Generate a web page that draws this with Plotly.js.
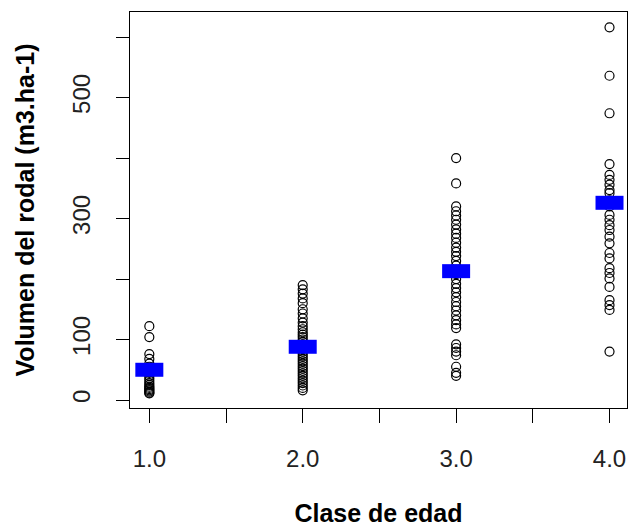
<!DOCTYPE html>
<html>
<head>
<meta charset="utf-8">
<script src="https://cdn.plot.ly/plotly-3.0.1.min.js"></script>
<style>
html, body { margin: 0; padding: 0; background: #fff; }
#chart { width: 628px; height: 527px; }
</style>
</head>
<body>
<div id="chart"></div>
<script>
// Age classes
var categories = [1, 2, 3, 4];
var xTickVals = [1, 1.5, 2, 2.5, 3, 3.5, 4];
var xTickText = ["1.0", "", "2.0", "", "3.0", "", "4.0"];
var yTickVals = [0, 100, 200, 300, 400, 500, 600];
var yTickText = ["0", "100", "", "300", "", "500", ""];

// Stand volume observations per age class (m3/ha)
var clase1 = [122, 104, 76, 68, 60, 55, 45, 40, 36, 32, 28, 25, 22, 20, 18, 16, 14, 12, 11];
var clase2 = [190, 183, 176, 168, 160, 150, 143, 135, 128, 122, 117, 112, 108, 104, 100, 96, 92, 88,
              84, 80, 76, 72, 68, 64, 60, 56, 52, 48, 44, 40, 36, 32, 28, 24, 20, 16];
var clase3 = [400, 358, 320, 312, 305, 298, 290, 282, 275, 268, 260, 252, 245, 238, 230, 222, 215, 208,
              200, 192, 185, 178, 170, 162, 155, 148, 140, 132, 125, 119, 92, 86, 80, 74, 55, 45, 40];
var clase4 = [616, 536, 474, 390, 372, 364, 356, 347, 342, 330, 320, 306, 298, 289, 281, 270, 259, 243,
              234, 218, 210, 201, 187, 165, 157, 149, 80];
// Mean per class (blue markers)
var medias = [50, 88, 213, 326];

var groups = [clase1, clase2, clase3, clase4];
var xs = [], ys = [];
groups.forEach(function (g, i) {
  g.forEach(function (v) { xs.push(categories[i]); ys.push(v); });
});

var traces = [
  {
    type: 'scatter', mode: 'markers', x: xs, y: ys,
    marker: { symbol: 'circle-open', size: 9, color: '#000000', line: { width: 1.2, color: '#000000' } },
    hoverinfo: 'x+y', showlegend: false
  },
  {
    type: 'scatter', mode: 'markers', x: categories, y: medias,
    marker: { symbol: 'line-ew', size: 20, color: '#0000FF', line: { width: 14, color: '#0000FF' } },
    hoverinfo: 'x+y', showlegend: false
  }
];

var tickFont = { family: 'Liberation Sans, Arial, sans-serif', size: 24, color: '#222222' };
var titleFont = { family: 'Liberation Sans, Arial, sans-serif', size: 25, color: '#000000', weight: 'bold' };

var layout = {
  width: 628, height: 527,
  margin: { l: 130, r: 1, t: 12, b: 119, pad: 0 },
  paper_bgcolor: '#ffffff', plot_bgcolor: '#ffffff',
  showlegend: false,
  xaxis: {
    range: [0.874, 4.114], autorange: false,
    tickmode: 'array', tickvals: xTickVals, ticktext: xTickText,
    ticks: 'outside', ticklen: 14, tickwidth: 1, tickcolor: '#000000',
    showline: true, mirror: true, linecolor: '#000000', linewidth: 1,
    showgrid: false, zeroline: false,
    tickfont: tickFont, ticklabelstandoff: 15,
    automargin: false,
    title: { text: 'Clase de edad', font: titleFont, standoff: 36 }
  },
  yaxis: {
    range: [-13.2, 641.4], autorange: false,
    tickmode: 'array', tickvals: yTickVals, ticktext: yTickText,
    ticks: 'outside', ticklen: 13, tickwidth: 1, tickcolor: '#000000',
    showline: true, mirror: true, linecolor: '#000000', linewidth: 1,
    showgrid: false, zeroline: false,
    tickfont: tickFont, tickangle: -90, ticklabelstandoff: 16,
    automargin: false,
    title: { text: 'Volumen del rodal (m3.ha-1)', font: titleFont, standoff: 26 }
  }
};

Plotly.newPlot('chart', traces, layout, { displayModeBar: false, staticPlot: true });
</script>
</body>
</html>
